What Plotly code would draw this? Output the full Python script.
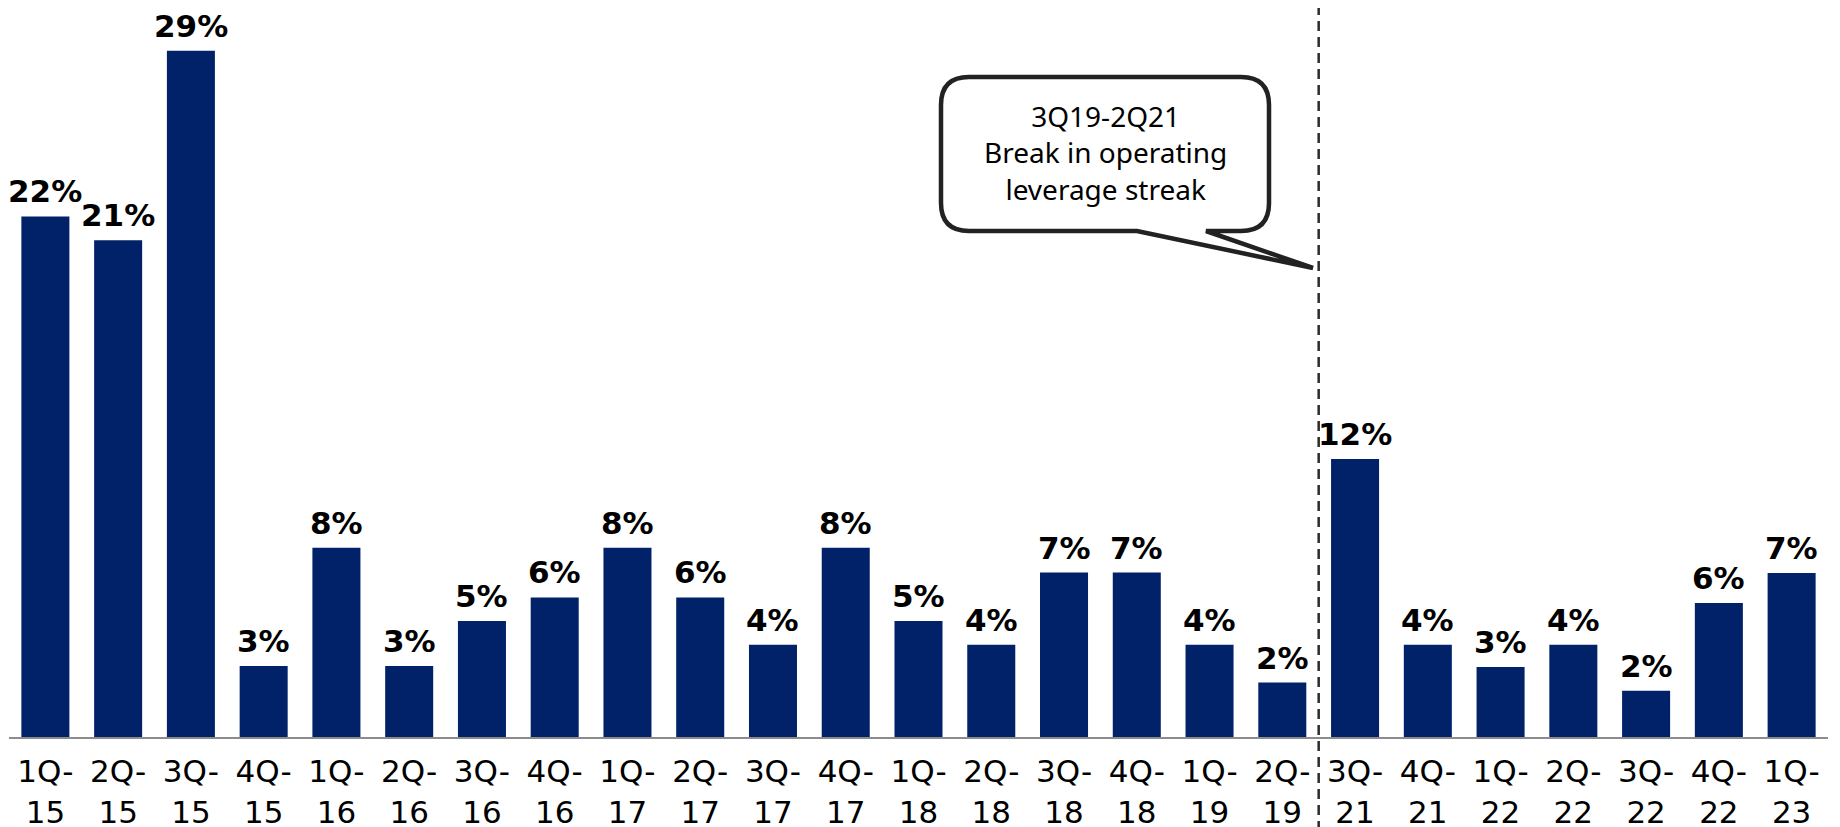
import plotly.graph_objects as go

# ---- data ----
quarters = ["1Q-<br>15", "2Q-<br>15", "3Q-<br>15", "4Q-<br>15",
            "1Q-<br>16", "2Q-<br>16", "3Q-<br>16", "4Q-<br>16",
            "1Q-<br>17", "2Q-<br>17", "3Q-<br>17", "4Q-<br>17",
            "1Q-<br>18", "2Q-<br>18", "3Q-<br>18", "4Q-<br>18",
            "1Q-<br>19", "2Q-<br>19",
            "3Q-<br>21", "4Q-<br>21", "1Q-<br>22", "2Q-<br>22",
            "3Q-<br>22", "4Q-<br>22", "1Q-<br>23"]
values = [22.0, 21.0, 29.0, 3.0, 8.0, 3.0, 4.9, 5.9, 8.0, 5.9, 3.9, 8.0,
          4.9, 3.9, 6.95, 6.95, 3.9, 2.3, 11.75, 3.9, 2.96, 3.9, 1.95, 5.66, 6.93]
value_labels = ["22%", "21%", "29%", "3%", "8%", "3%", "5%", "6%", "8%", "6%",
                "4%", "8%", "5%", "4%", "7%", "7%", "4%", "2%", "12%", "4%",
                "3%", "4%", "2%", "6%", "7%"]
break_after = 17  # index of 2Q-19; break before 3Q-21
callout_lines = ["3Q19-2Q21", "Break in operating", "leverage streak"]

# ---- layout geometry (pixels, page coords; page body has 8px margin) ----
W, H = 1840, 827
OFF = 8
BASE = 737           # baseline y in page coords
PX_PER_UNIT = 23.66
ML, MR, MT = 9 - OFF, 20, 0
MB = H - (BASE - OFF)
PW, PH = W - ML - MR, H - MT - MB

def px(xp):
    return (xp - OFF - ML) / PW

def py(yp):
    return (BASE - yp) / PH

BAR = "#012169"
x_idx = list(range(len(quarters)))

fig = go.Figure()
fig.add_trace(go.Bar(x=x_idx, y=values, marker_color=BAR, marker_line_width=0,
                     hoverinfo="skip"))

for i, (v, t) in enumerate(zip(values, value_labels)):
    fig.add_annotation(x=i, y=v, text=t, showarrow=False, yanchor="bottom",
                       yshift=6, borderpad=0,
                       font=dict(family="DejaVu Sans", size=31, color="#000000",
                                 weight="bold"))

# dashed break line spanning full height
xb = (break_after + 1) / len(quarters)
fig.add_shape(type="line", xref="paper", yref="paper", x0=xb, x1=xb,
              y0=py(H + 20), y1=py(-20),
              line=dict(color="#2b2b2b", width=2.5, dash="10px,6px"))

# callout bubble
L, R, T, B, r = 941, 1269, 77, 231, 28
tail_l, tail_r, tip_x, tip_y = 1137, 1206, 1313, 268
pts = [
    ("M", L + r, T), ("L", R - r, T), ("Q", R, T, R, T + r), ("L", R, B - r),
    ("Q", R, B, R - r, B), ("L", tail_r, B), ("L", tip_x, tip_y), ("L", tail_l, B),
    ("L", L + r, B), ("Q", L, B, L, B - r), ("L", L, T + r), ("Q", L, T, L + r, T),
]
path = ""
for p in pts:
    cmd = p[0]
    coords = p[1:]
    s = " ".join(f"{px(coords[k]):.5f},{py(coords[k+1]):.5f}" for k in range(0, len(coords), 2))
    path += f"{cmd}{s} "
path += "Z"
fig.add_shape(type="path", xref="paper", yref="paper", path=path,
              fillcolor="white", line=dict(color="#222222", width=4.5), layer="above")
fig.add_annotation(xref="paper", yref="paper", x=px((L + R) / 2), y=py((T + B) / 2 - 1),
                   text="<br>".join(callout_lines), showarrow=False,
                   xanchor="center", yanchor="middle", align="center",
                   font=dict(family="Noto Sans", size=28, color="#000000"))

fig.update_layout(
    width=W, height=H,
    margin=dict(l=ML, r=MR, t=MT, b=MB),
    paper_bgcolor="white", plot_bgcolor="white",
    bargap=0.34, showlegend=False,
    xaxis=dict(tickmode="array", tickvals=x_idx, ticktext=quarters,
               range=[-0.5, len(quarters) - 0.5], showgrid=False, zeroline=False,
               showline=True, linecolor="#8c8c8c", linewidth=2, ticks="",
               ticklabelstandoff=6,
               tickfont=dict(family="DejaVu Sans", size=31, color="#000000"),
               fixedrange=True),
    yaxis=dict(range=[0, PH / PX_PER_UNIT], visible=False, fixedrange=True),
)

fig.write_html("out.html", config={"displayModeBar": False})
